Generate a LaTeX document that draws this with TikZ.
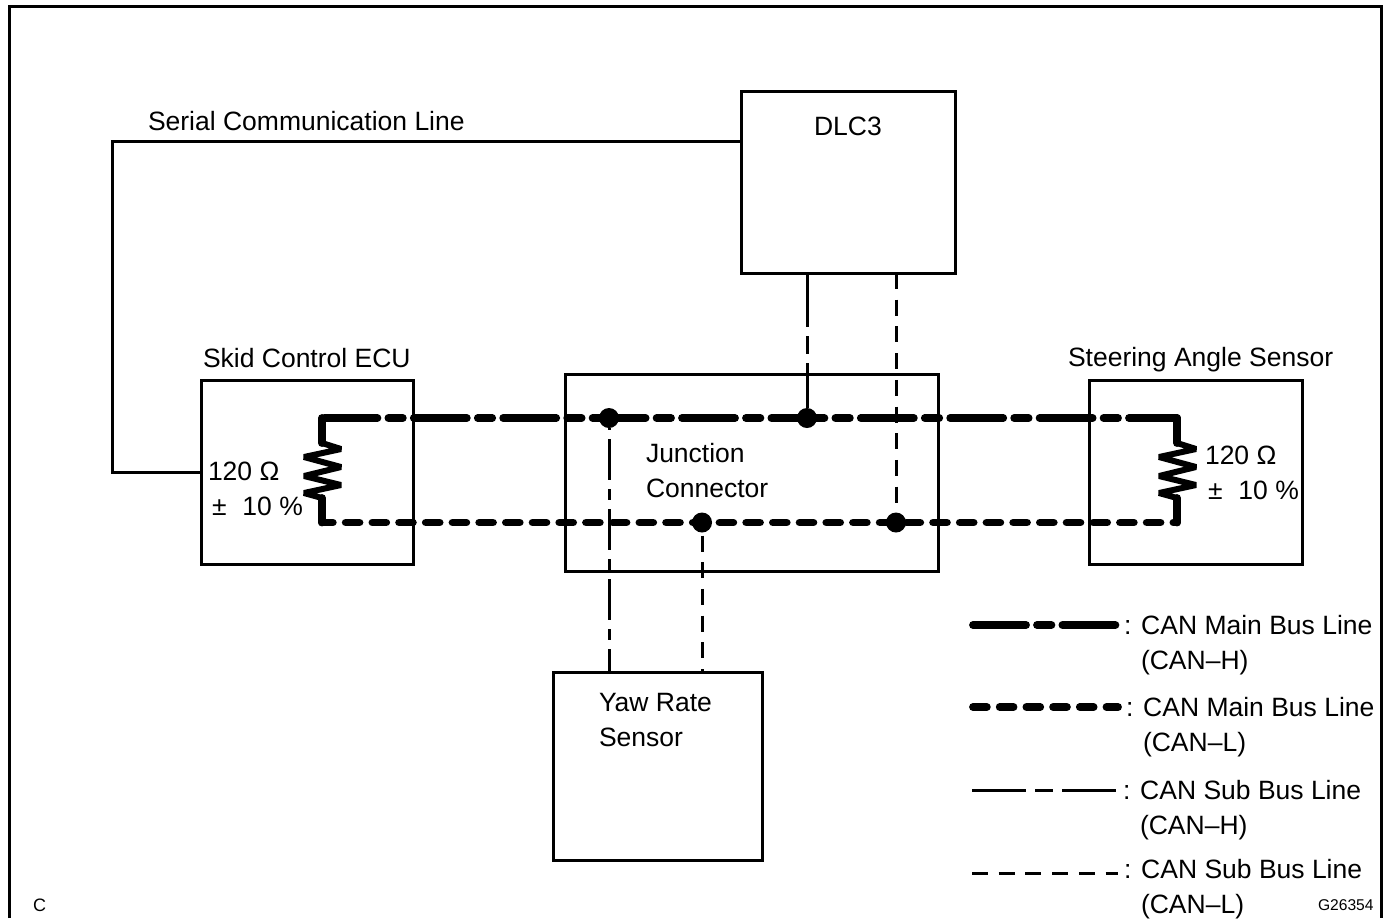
\documentclass[tikz,border=0pt]{standalone}
\usepackage{fontspec}
\setmainfont{Liberation Sans}
\tikzset{
  box/.style={draw, line width=1.5pt, inner sep=0pt, outer sep=0pt},
  dot/.style={circle, fill=black, inner sep=0pt, outer sep=0pt, minimum size=10pt},
  lbl/.style={inner sep=0pt, outer sep=0pt, anchor=base west, yshift=-.5pt},
  mainh/.style={line width=3.9pt, line cap=round, dash pattern=on 26.5pt off 5.5pt on 7.2pt off 5.5pt},
  mainl/.style={line width=3.9pt, line cap=round, dash pattern=on 6.9pt off 6.45pt},
  subh/.style={line width=1.5pt, dash pattern=on 27pt off 4.5pt on 9pt off 4.5pt},
  subl/.style={line width=1.5pt, dash pattern=on 8pt off 5.35pt},
  stub/.style={line width=3.9pt, line cap=round},
  zig/.style={line width=3pt, line join=miter, miter limit=3}
}
\begin{document}
\begin{tikzpicture}[x=.5pt, y=-.5pt, font=\fontsize{13.25}{15}\selectfont]
  \useasboundingbox (0,0) rectangle (1390,918);
  \fill[white] (0,0) rectangle (1390,918);
  \draw[line width=1.5pt] (9.5,918)--(9.5,6)--(1381,6)--(1381,918);

  % boxes
  \node[box, minimum width=107pt, minimum height=91pt] (dlc) at (848,182){};
  \node[box, minimum width=106pt, minimum height=92pt] (skid) at (307,472){};
  \node[box, minimum width=186.5pt, minimum height=98.5pt] (junction) at (751.5,472.5){};
  \node[box, minimum width=106.5pt, minimum height=92pt] (steer) at (1195.5,472){};
  \node[box, minimum width=104.5pt, minimum height=94pt] (yaw) at (657.5,766){};

  % corners and junction dots
  \coordinate (hl) at (322,418);
  \coordinate (ll) at (322,522.5);
  \coordinate (hr) at (1177,418);
  \coordinate (lr) at (1177,522.5);
  \coordinate (zl) at (322,443);
  \coordinate (zr) at (1177,443);
  \node[dot] (a) at (609,418){};
  \node[dot] (b) at (807,418){};
  \node[dot] (c) at (702,522.5){};
  \node[dot] (d) at (896,522.5){};

  % serial line
  \coordinate (sa) at (112,141);
  \coordinate (sb) at (112,472);
  \draw[line width=1.5pt] (dlc.west |- sa)--(sa)--(sb)--(skid.west |- sb);

  % main bus
  \draw[mainh, dash phase=-1.2pt] (hl)--(hr);
  \draw[mainl, dash phase=1.5pt] (ll)--(lr);

  % resistors
  \foreach \r/\c in {zl/322,zr/1177}
  {
    \draw[stub] (\c,418)--(\r);
    \draw[stub] (\c,498)--(\c,522.5);
    \draw[zig] (\r)--(\c+19,449)--(\c-18,457)--(\c+19,467)--(\c-18,476)--(\c+19,485)--(\c-18,493)--(\c,498);
  }

  % sub bus
  \draw[line width=1.5pt, dash pattern=on 20.5pt off 4.5pt on 5.5pt off 4.5pt, dash phase=29.5pt] (a)--(a |- yaw.north);
  \draw[subh] (dlc.south -| b)--(b);
  \draw[subl] (dlc.south -| d)--(d);
  \draw[subl, dash phase=11.85pt] (c)--(c |- yaw.north);

  % texts
  \node[lbl] (serial) at (148,129){Serial Communication Line};
  \node[lbl] (dlct) at (814,134){DLC3};
  \node[lbl] (skidt) at (203,366){Skid Control ECU};
  \node[lbl] (steert) at (1068,365){Steering Angle Sensor};
  \node[lbl] (jt1) at (646,461){Junction};
  \node[lbl] (jt2) at (646,496){Connector};
  \node[lbl] (yt1) at (599,710){Yaw Rate};
  \node[lbl] (yt2) at (599,745){Sensor};
  \node[lbl] (ra1) at (208,479){120 Ω};
  \node[lbl] (ra2) at (212,514){±\hspace{.6em}10 \%};
  \node[lbl] (rb1) at (1205,463){120 Ω};
  \node[lbl] (rb2) at (1208,498){±\hspace{.6em}10 \%};
  \node[lbl, font=\fontsize{9}{10}\selectfont] (ct) at (33,910){C};
  \node[lbl, font=\fontsize{7.8}{9}\selectfont] (gt) at (1318,909){G26354};

  % legend
  \coordinate (k1a) at (973,625);
  \coordinate (k1b) at (1116,625);
  \coordinate (k2a) at (973,707);
  \coordinate (k2b) at (1118,707);
  \coordinate (k3a) at (972,790);
  \coordinate (k3b) at (1117,790);
  \coordinate (k4a) at (972,873);
  \coordinate (k4b) at (1118,873);
  \draw[mainh] (k1a)--(k1b);
  \draw[mainl] (k2a)--(k2b);
  \draw[subh] (k3a)--(k3b);
  \draw[subl] (k4a)--(k4b);
  \node[lbl] (k1t) at (1124,633){: CAN Main Bus Line};
  \node[lbl] (k1u) at (1141,668){(CAN–H)};
  \node[lbl] (k2t) at (1126,715){: CAN Main Bus Line};
  \node[lbl] (k2u) at (1143,750){(CAN–L)};
  \node[lbl] (k3t) at (1123,798){: CAN Sub Bus Line};
  \node[lbl] (k3u) at (1140,833){(CAN–H)};
  \node[lbl] (k4t) at (1124,877){: CAN Sub Bus Line};
  \node[lbl] (k4u) at (1141,912){(CAN–L)};
\end{tikzpicture}
\end{document}
